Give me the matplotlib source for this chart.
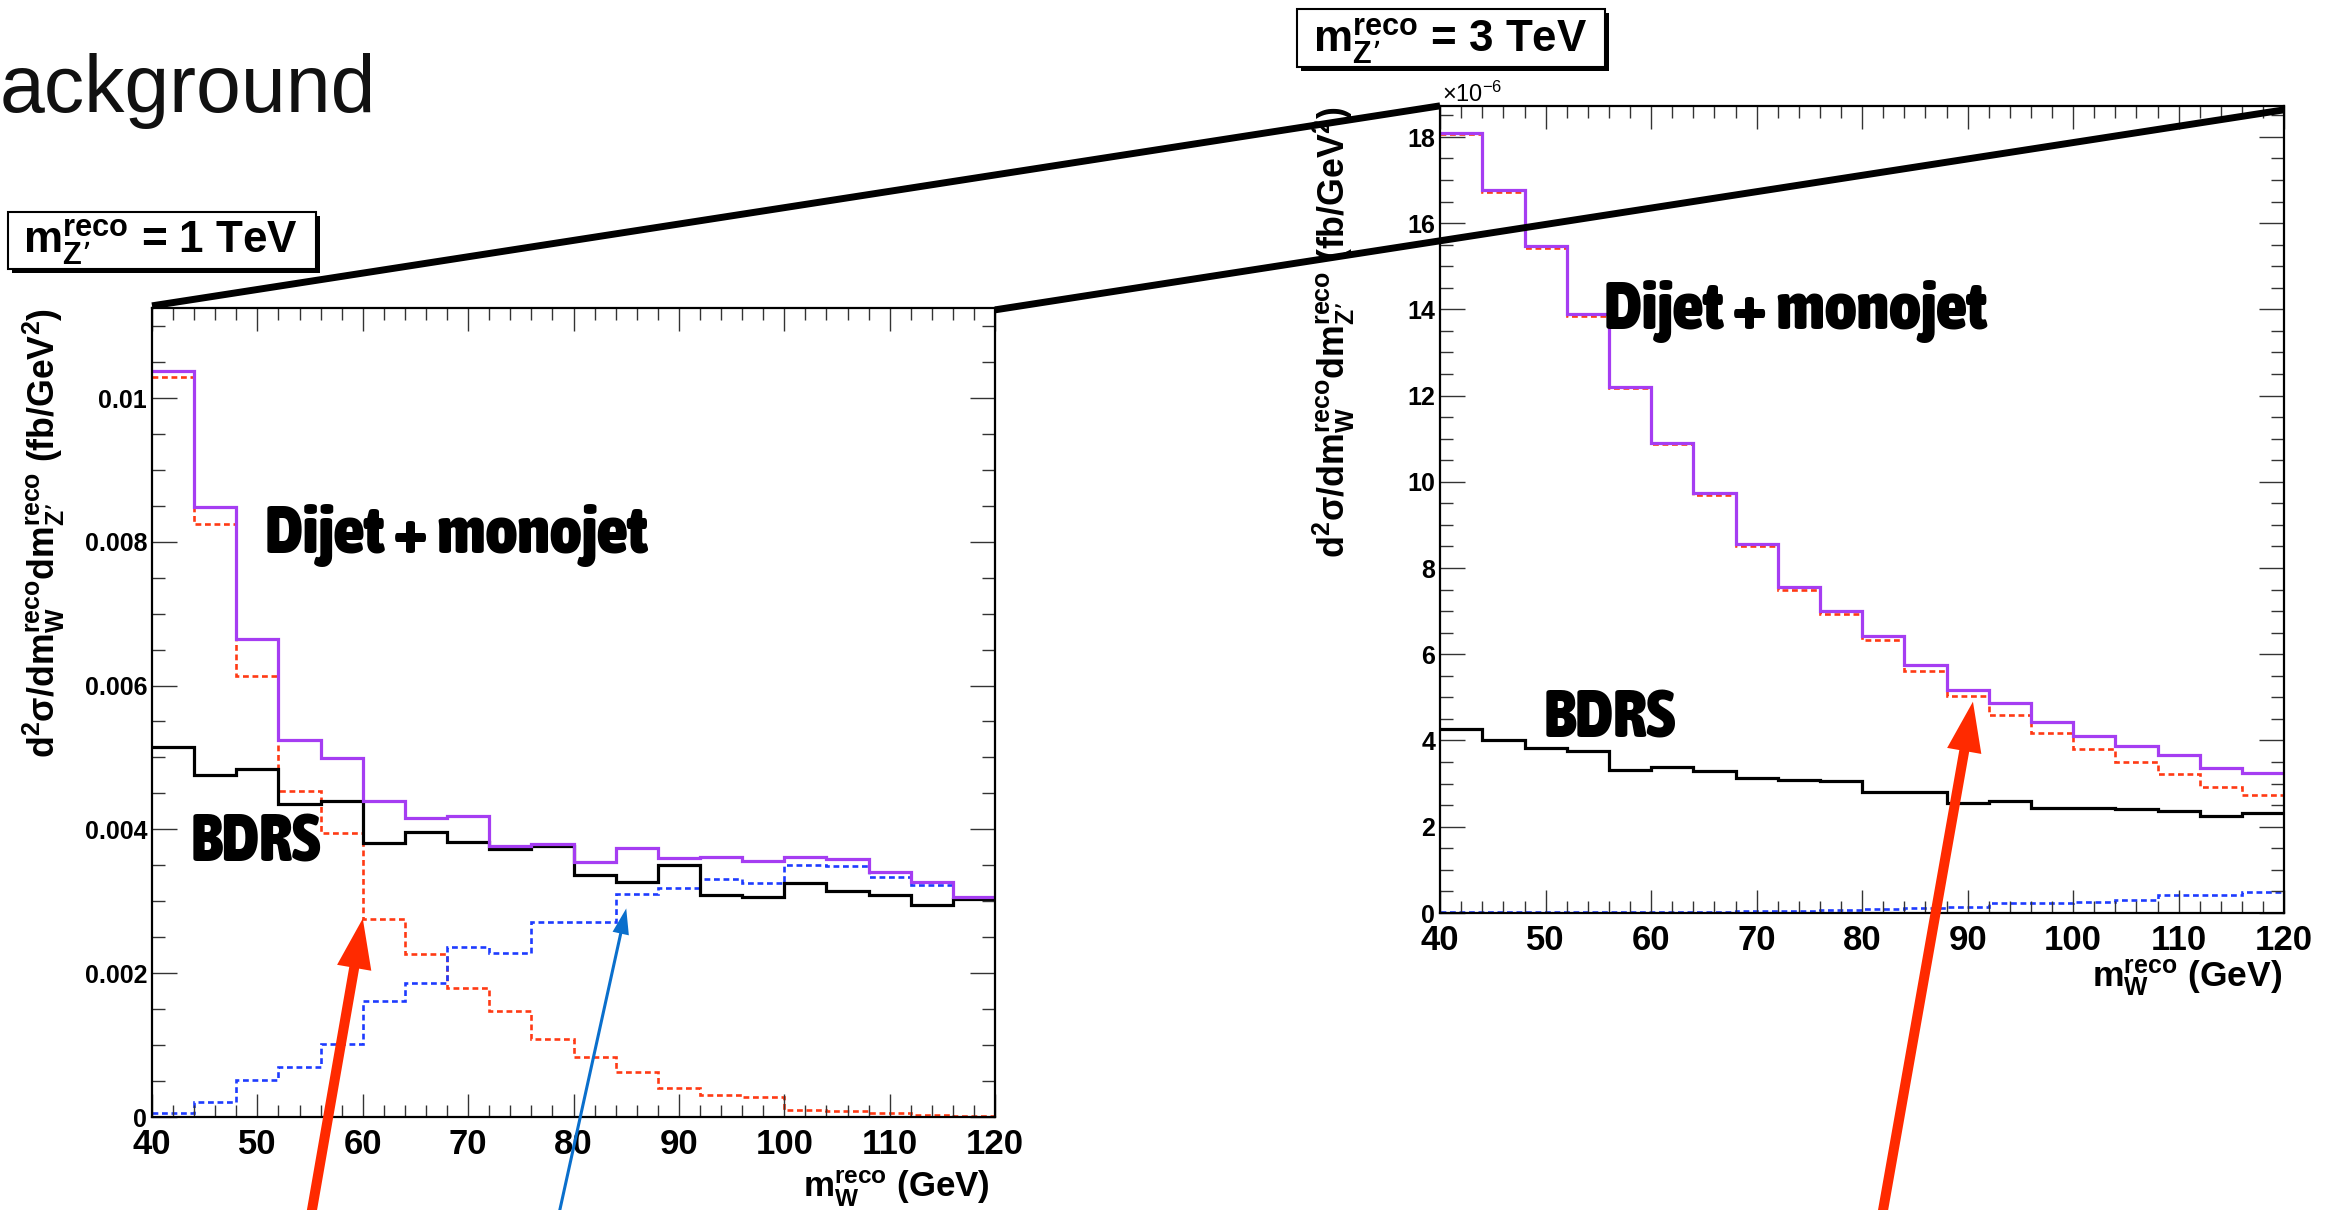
import numpy as np
import matplotlib
matplotlib.use("Agg")
import matplotlib.pyplot as plt
from matplotlib import font_manager as fm
from matplotlib.ticker import MultipleLocator, FuncFormatter
from matplotlib.lines import Line2D
from matplotlib.patches import Rectangle

# ---------------- data ----------------
bin_edges = np.arange(40, 121, 4)  # m_W^reco bins (GeV)

# m_Z' = 1 TeV  (fb/GeV^2)
total_1tev = [0.01038, 0.00848, 0.00665, 0.00524, 0.00499, 0.00439, 0.00416, 0.00418, 0.00377, 0.00380,
              0.00355, 0.00374, 0.00360, 0.00362, 0.00356, 0.00361, 0.00359, 0.00341, 0.00327, 0.00306]
dijet_1tev = [0.01029, 0.00825, 0.00613, 0.00453, 0.00395, 0.00276, 0.00227, 0.00180, 0.00147, 0.00109,
              0.00084, 0.00062, 0.00040, 0.00031, 0.00028, 0.00010, 0.00008, 0.00006, 0.000025, 0.000015]
monojet_1tev = [0.00006, 0.00021, 0.00051, 0.00070, 0.00102, 0.00161, 0.00187, 0.00237, 0.00228, 0.00271,
                0.00271, 0.00310, 0.00318, 0.00331, 0.00326, 0.00350, 0.00349, 0.00334, 0.00322, 0.00306]
bdrs_1tev = [0.00515, 0.00476, 0.00484, 0.00435, 0.00439, 0.00381, 0.00397, 0.00383, 0.00372, 0.00377,
             0.00337, 0.00327, 0.00350, 0.00309, 0.00306, 0.00325, 0.00314, 0.00309, 0.00295, 0.00303]

# m_Z' = 3 TeV  (x 1e-6 fb/GeV^2)
total_3tev = [18.10, 16.76, 15.46, 13.88, 12.20, 10.91, 9.73, 8.55, 7.56, 7.00,
              6.42, 5.76, 5.17, 4.86, 4.42, 4.11, 3.87, 3.66, 3.36, 3.24]
dijet_3tev = [18.07, 16.73, 15.43, 13.85, 12.17, 10.88, 9.69, 8.50, 7.49, 6.93,
              6.32, 5.61, 5.04, 4.59, 4.18, 3.80, 3.50, 3.22, 2.91, 2.73]
monojet_3tev = [0.02, 0.02, 0.02, 0.02, 0.02, 0.02, 0.03, 0.04, 0.05, 0.07,
                0.09, 0.12, 0.13, 0.22, 0.22, 0.26, 0.30, 0.42, 0.42, 0.49]
bdrs_3tev = [4.26, 4.00, 3.82, 3.75, 3.32, 3.38, 3.30, 3.14, 3.09, 3.06,
             2.80, 2.80, 2.56, 2.59, 2.43, 2.43, 2.40, 2.36, 2.25, 2.32]

# ---------------- style ----------------
plt.rcParams['font.family'] = ['Liberation Sans', 'DejaVu Sans']
plt.rcParams['font.weight'] = 'bold'
plt.rcParams['mathtext.default'] = 'regular'

C_TOT = '#A53DF2'
C_DIJ = '#FF3A14'
C_MON = '#1E3CFF'
C_BDRS = '#000000'
C_ARR_RED = '#FF2A00'
C_ARR_BLUE = '#0A6FCC'

W, H = 2332, 1210
fig = plt.figure(figsize=(23.322, 12.102), dpi=100)
fig.patch.set_facecolor('white')


def fx(x):
    return x / W


def fy(y):
    return 1 - y / H


# ---- pick a heavy condensed font for the hand-written annotations ----
_WMAP = {'ultralight': 100, 'light': 300, 'normal': 400, 'regular': 400, 'book': 400, 'medium': 500,
         'roman': 400, 'semibold': 600, 'demibold': 600, 'demi': 600, 'bold': 700, 'heavy': 800,
         'extra bold': 800, 'black': 900}
_SMAP = {'ultra-condensed': 1, 'extra-condensed': 2, 'condensed': 3, 'semi-condensed': 4, 'normal': 5}


def _w(f):
    return f.weight if isinstance(f.weight, (int, float)) else _WMAP.get(str(f.weight).lower(), 400)


def _s(f):
    if 'narrow' in f.name.lower():
        return 3
    if isinstance(f.stretch, (int, float)):
        return max(1, min(5, int(f.stretch) // 100))
    return _SMAP.get(str(f.stretch).lower(), 5)


hand_prop = fm.FontProperties(family=['Liberation Sans', 'DejaVu Sans'], weight='bold')
best = None
for f in fm.fontManager.ttflist:
    if 'CJK' in f.name or 'Mono' in f.name or 'Serif' in f.name:
        continue
    if 'italic' in str(f.style).lower() or 'oblique' in str(f.style).lower():
        continue
    if _w(f) >= 700 and _s(f) <= 4:
        key = (_s(f), -_w(f))
        if best is None or key < best[0]:
            best = (key, f.fname)
if best is not None:
    hand_prop = fm.FontProperties(fname=best[1])

axL = fig.add_axes([fx(152), fy(1117), (995 - 152) / W, (1117 - 308) / H])
axR = fig.add_axes([fx(1440), fy(913), (2284 - 1440) / W, (913 - 106) / H])


def style(ax, ymax, ymaj, ymin, fmt):
    ax.set_xlim(40, 120)
    ax.set_ylim(0, ymax)
    ax.xaxis.set_major_locator(MultipleLocator(10))
    ax.xaxis.set_minor_locator(MultipleLocator(2))
    ax.yaxis.set_major_locator(MultipleLocator(ymaj))
    ax.yaxis.set_minor_locator(MultipleLocator(ymin))
    ax.yaxis.set_major_formatter(FuncFormatter(fmt))
    ax.xaxis.set_major_formatter(FuncFormatter(lambda v, p: f"{v:g}"))
    ax.tick_params(which='both', direction='in', top=True, right=True, color='#333333', width=1.0)
    ax.tick_params(axis='x', which='major', length=16.5, labelsize=25, pad=8)
    ax.tick_params(axis='x', which='minor', length=8.5)
    ax.tick_params(axis='y', which='major', length=18, labelsize=18, pad=3.5)
    ax.tick_params(axis='y', which='minor', length=9.3)
    for s in ax.spines.values():
        s.set_linewidth(1.6)


style(axL, 0.011252, 0.002, 0.0005, lambda v, p: f"{round(v, 6):g}")
style(axR, 18.72, 2, 0.5, lambda v, p: f"{v:g}")

dash = (0, (2.2, 1.4))
for ax, tot, dij, mon, bd in [(axL, total_1tev, dijet_1tev, monojet_1tev, bdrs_1tev),
                              (axR, total_3tev, dijet_3tev, monojet_3tev, bdrs_3tev)]:
    ax.stairs(dij, bin_edges, baseline=None, color=C_DIJ, lw=1.9, ls=dash)
    ax.stairs(mon, bin_edges, baseline=None, color=C_MON, lw=1.9, ls=dash)
    ax.stairs(bd, bin_edges, baseline=None, color=C_BDRS, lw=2.3)
    ax.stairs(tot, bin_edges, baseline=None, color=C_TOT, lw=2.3)

# ---------------- connecting zoom lines ----------------
pL = axL.get_position()
pR = axR.get_position()
fig.add_artist(Line2D([pL.x0, pR.x0], [pL.y1 + 2 / H, pR.y1], color='black', lw=5,
                      transform=fig.transFigure, solid_capstyle='butt'))
fig.add_artist(Line2D([pL.x1, pR.x1], [pL.y1 - 2 / H, pR.y1 - 4 / H], color='black', lw=5,
                      transform=fig.transFigure, solid_capstyle='butt'))

# ---------------- texts ----------------
renderer = fig.canvas.get_renderer()


def fit(t, target, vertical=False):
    bb = t.get_window_extent(renderer)
    cur = bb.height if vertical else bb.width
    t.set_fontsize(t.get_fontsize() * target / cur)
    return t


fit(fig.text(fx(0), fy(112), 'ackground', fontsize=57, fontweight='normal', color='#111111',
             ha='left', va='baseline'), 377)


def label_box(x0, y0, x1, y1, tx, ty, tw, s):
    fig.add_artist(Rectangle((fx(x0 + 4), fy(y1 + 4)), (x1 - x0) / W, (y1 - y0) / H,
                             transform=fig.transFigure, facecolor='black', edgecolor='black', lw=0))
    fig.add_artist(Rectangle((fx(x0), fy(y1)), (x1 - x0) / W, (y1 - y0) / H,
                             transform=fig.transFigure, facecolor='white', edgecolor='black', lw=1.5))
    fit(fig.text(fx(tx), fy(ty), s, fontsize=30, fontweight='bold', ha='left', va='baseline'), tw)


label_box(8, 212, 316, 269, 23, 253, 275, "$m^{reco}_{Z’}$ = 1 TeV")
label_box(1297, 9, 1605, 67, 1313, 52, 274, "$m^{reco}_{Z’}$ = 3 TeV")

fit(fig.text(fx(1442), fy(102), r"$\times10^{-6}$", fontsize=14, fontweight='normal',
             ha='left', va='baseline'), 61)

ylab = "d$^{2}$σ/dm$^{reco}_{W}$dm$^{reco}_{Z’}$ (fb/GeV$^{2}$)"
fit(fig.text(fx(55), fy(308), ylab, fontsize=24, rotation=90, rotation_mode='anchor',
             ha='right', va='baseline'), 450, vertical=True)
fit(fig.text(fx(1345), fy(106), ylab, fontsize=24, rotation=90, rotation_mode='anchor',
             ha='right', va='baseline'), 452, vertical=True)

xlab = "m$^{reco}_{W}$ (GeV)"
fit(fig.text(fx(990), fy(1197), xlab, fontsize=26, ha='right', va='baseline'), 187)
fit(fig.text(fx(2282), fy(987), xlab, fontsize=26, ha='right', va='baseline'), 190)

for s, x, y, w in [('Dijet + monojet', 265, 553, 382), ('Dijet + monojet', 1604, 329, 383),
                   ('BDRS', 191, 861, 130), ('BDRS', 1543, 737, 132)]:
    fit(fig.text(fx(x), fy(y), s, fontproperties=hand_prop, fontsize=50,
                 ha='left', va='baseline'), w)

# ---------------- arrows ----------------
axL.annotate('', xy=(60, 0.00276), xycoords='data', xytext=(305, H - 1250), textcoords='figure pixels',
             arrowprops=dict(width=7.2, headwidth=25, headlength=36, shrink=0.0,
                             facecolor=C_ARR_RED, edgecolor='none'), annotation_clip=False)
axL.annotate('', xy=(85, 0.0029), xycoords='data', xytext=(551, H - 1250), textcoords='figure pixels',
             arrowprops=dict(width=2.2, headwidth=12, headlength=18.5, shrink=0.0,
                             facecolor=C_ARR_BLUE, edgecolor='none'), annotation_clip=False)
axR.annotate('', xy=(90.5, 4.9), xycoords='data', xytext=(1876, H - 1250), textcoords='figure pixels',
             arrowprops=dict(width=7.2, headwidth=25, headlength=36, shrink=0.0,
                             facecolor=C_ARR_RED, edgecolor='none'), annotation_clip=False)

fig.savefig('out.png', dpi=100, facecolor='white')
